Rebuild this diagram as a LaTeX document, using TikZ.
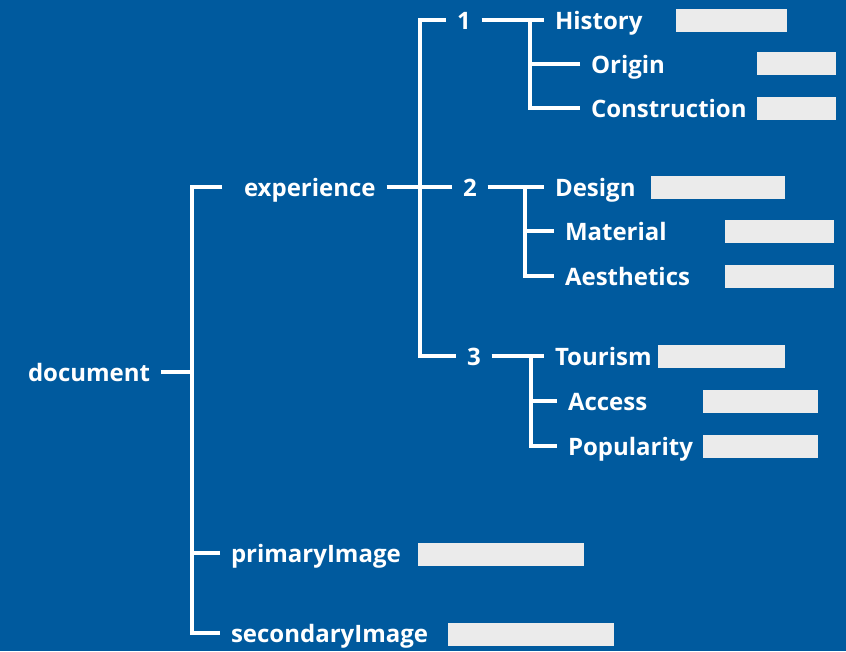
\documentclass[tikz,border=0pt]{standalone}
\usepackage{fontspec}
\setmainfont{Open Sans}
\definecolor{bgblue}{HTML}{005A9E}
\definecolor{bargray}{HTML}{EBEBEB}
\tikzset{
  lbl/.style={anchor=west, inner sep=0pt, outer sep=11pt, text height=18pt,
    text depth=0pt, text=white, font=\fontsize{24}{28}\selectfont\bfseries},
  link/.style={white, line width=3.5pt},
  bar/.style={anchor=west, fill=bargray, inner sep=0pt, minimum height=23pt},
}
\begin{document}
\begin{tikzpicture}[x=1pt, y=-1pt]
  \fill [bgblue] (0, 0) rectangle (846, 651);
  \useasboundingbox (0, 0) rectangle (846, 651);

  % Root
  \node [lbl] (doc) at (17, 372) {document};
  \node [lbl] (exp) at (233, 187) {experience};
  \node [lbl] (prim) at (220, 553) {primaryImage};
  \node [lbl] (sec) at (220, 633) {secondaryImage};
  \coordinate (s0) at (192, 372);
  \draw [link] (doc.east) -- (s0);
  \draw [link] ([xshift=-11pt]exp.west) -| (s0) |- (sec.west);
  \draw [link] (prim.west) -- (prim.west -| s0);
  \node [bar, minimum width=166pt] (primbar) at (418, 554) {};
  \node [bar, minimum width=166pt] (secbar) at (448, 634) {};

  % Sections
  \node [lbl] (n1) at (446, 20) {1};
  \node [lbl] (n2) at (452, 187) {2};
  \node [lbl] (n3) at (456, 356) {3};
  \coordinate (s1) at (420, 187);
  \draw [link] (exp.east) -- (n2.west);
  \draw [link] (n1.west) -| (s1) |- (n3.west);

  % Section 1
  \node [lbl] (hist) at (544, 20) {History};
  \node [lbl] (orig) at (580, 64) {Origin};
  \node [lbl] (cons) at (580, 108) {Construction};
  \coordinate (b1) at (530, 20);
  \draw [link] (n1.east) -- (hist.west);
  \draw [link] (b1) |- (cons.west);
  \draw [link] (orig.west) -- (orig.west -| b1);
  \node [bar, minimum width=111pt] (histbar) at (676, 20) {};
  \node [bar, minimum width=79pt] (origbar) at (757, 63) {};
  \node [bar, minimum width=79pt] (consbar) at (757, 108) {};

  % Section 2
  \node [lbl] (dsgn) at (544, 187) {Design};
  \node [lbl] (matl) at (554, 231) {Material};
  \node [lbl] (aest) at (554, 276) {Aesthetics};
  \coordinate (b2) at (525, 187);
  \draw [link] (n2.east) -- (dsgn.west);
  \draw [link] (b2) |- (aest.west);
  \draw [link] (matl.west) -- (matl.west -| b2);
  \node [bar, minimum width=134pt] (dsgnbar) at (651, 187) {};
  \node [bar, minimum width=109pt] (matlbar) at (725, 231) {};
  \node [bar, minimum width=109pt] (aestbar) at (725, 276) {};

  % Section 3
  \node [lbl] (tour) at (544, 356) {Tourism};
  \node [lbl] (accs) at (557, 401) {Access};
  \node [lbl] (popu) at (557, 446) {Popularity};
  \coordinate (b3) at (531, 356);
  \draw [link] (n3.east) -- (tour.west);
  \draw [link] (b3) |- (popu.west);
  \draw [link] (accs.west) -- (accs.west -| b3);
  \node [bar, minimum width=127pt] (tourbar) at (658, 356) {};
  \node [bar, minimum width=115pt] (accsbar) at (703, 401) {};
  \node [bar, minimum width=115pt] (popubar) at (703, 446) {};
\end{tikzpicture}
\end{document}
